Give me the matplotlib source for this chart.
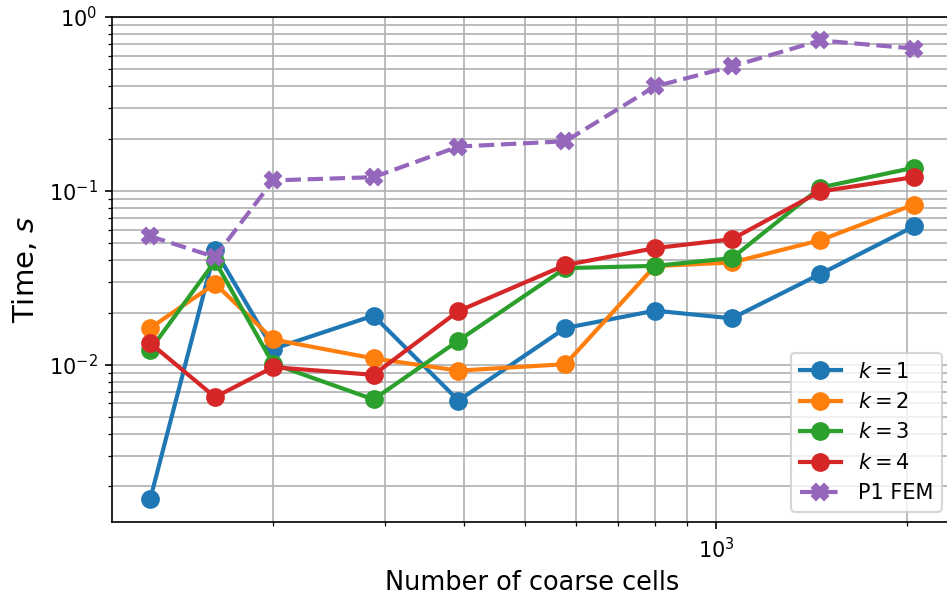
import matplotlib
matplotlib.use("Agg")
import matplotlib.pyplot as plt
from matplotlib.ticker import NullFormatter

cells = [128, 162, 200, 288, 392, 578, 800, 1058, 1458, 2048]

time_k1 = [0.00169, 0.0457, 0.01235, 0.0192, 0.00624, 0.0163, 0.0205, 0.01853, 0.0333, 0.0625]
time_k2 = [0.0163, 0.0293, 0.0140, 0.0109, 0.00927, 0.0101, 0.0370, 0.0388, 0.0521, 0.0835]
time_k3 = [0.0122, 0.0395, 0.01014, 0.00633, 0.0138, 0.0360, 0.0371, 0.0411, 0.1046, 0.136]
time_k4 = [0.01336, 0.00653, 0.0097, 0.00877, 0.0204, 0.0375, 0.0469, 0.0528, 0.0993, 0.120]
time_p1 = [0.0549, 0.0417, 0.115, 0.120, 0.180, 0.193, 0.399, 0.520, 0.733, 0.659]

series = [
    (time_k1, r"$k = 1$", "tab:blue"),
    (time_k2, r"$k = 2$", "tab:orange"),
    (time_k3, r"$k = 3$", "tab:green"),
    (time_k4, r"$k = 4$", "tab:red"),
]

W, H = 947, 601
dpi = 150
fig = plt.figure(figsize=(W / dpi, H / dpi), dpi=dpi)
ax = fig.add_axes([112 / W, (H - 522) / H, (952 - 112) / W, (522 - 17) / H])

for vals, lab, col in series:
    ax.plot(cells, vals, "-o", color=col, label=lab, lw=2, ms=8)
ax.plot(cells, time_p1, "--X", color="tab:purple", label="P1 FEM", lw=2, ms=8)

ax.set_xscale("log")
ax.set_yscale("log")
ax.set_ylim(1.25e-3, 1.0)
ax.xaxis.set_minor_formatter(NullFormatter())
ax.grid(True, which="both", color="#b0b0b0", lw=0.8)
ax.set_axisbelow(True)
ax.set_xlabel("Number of coarse cells", fontsize=12.3)
ax.set_ylabel(r"Time, $s$", fontsize=14)
ax.tick_params(labelsize=10)
ax.legend(loc="lower right", fontsize=10)

fig.savefig("out.png", dpi=dpi)
